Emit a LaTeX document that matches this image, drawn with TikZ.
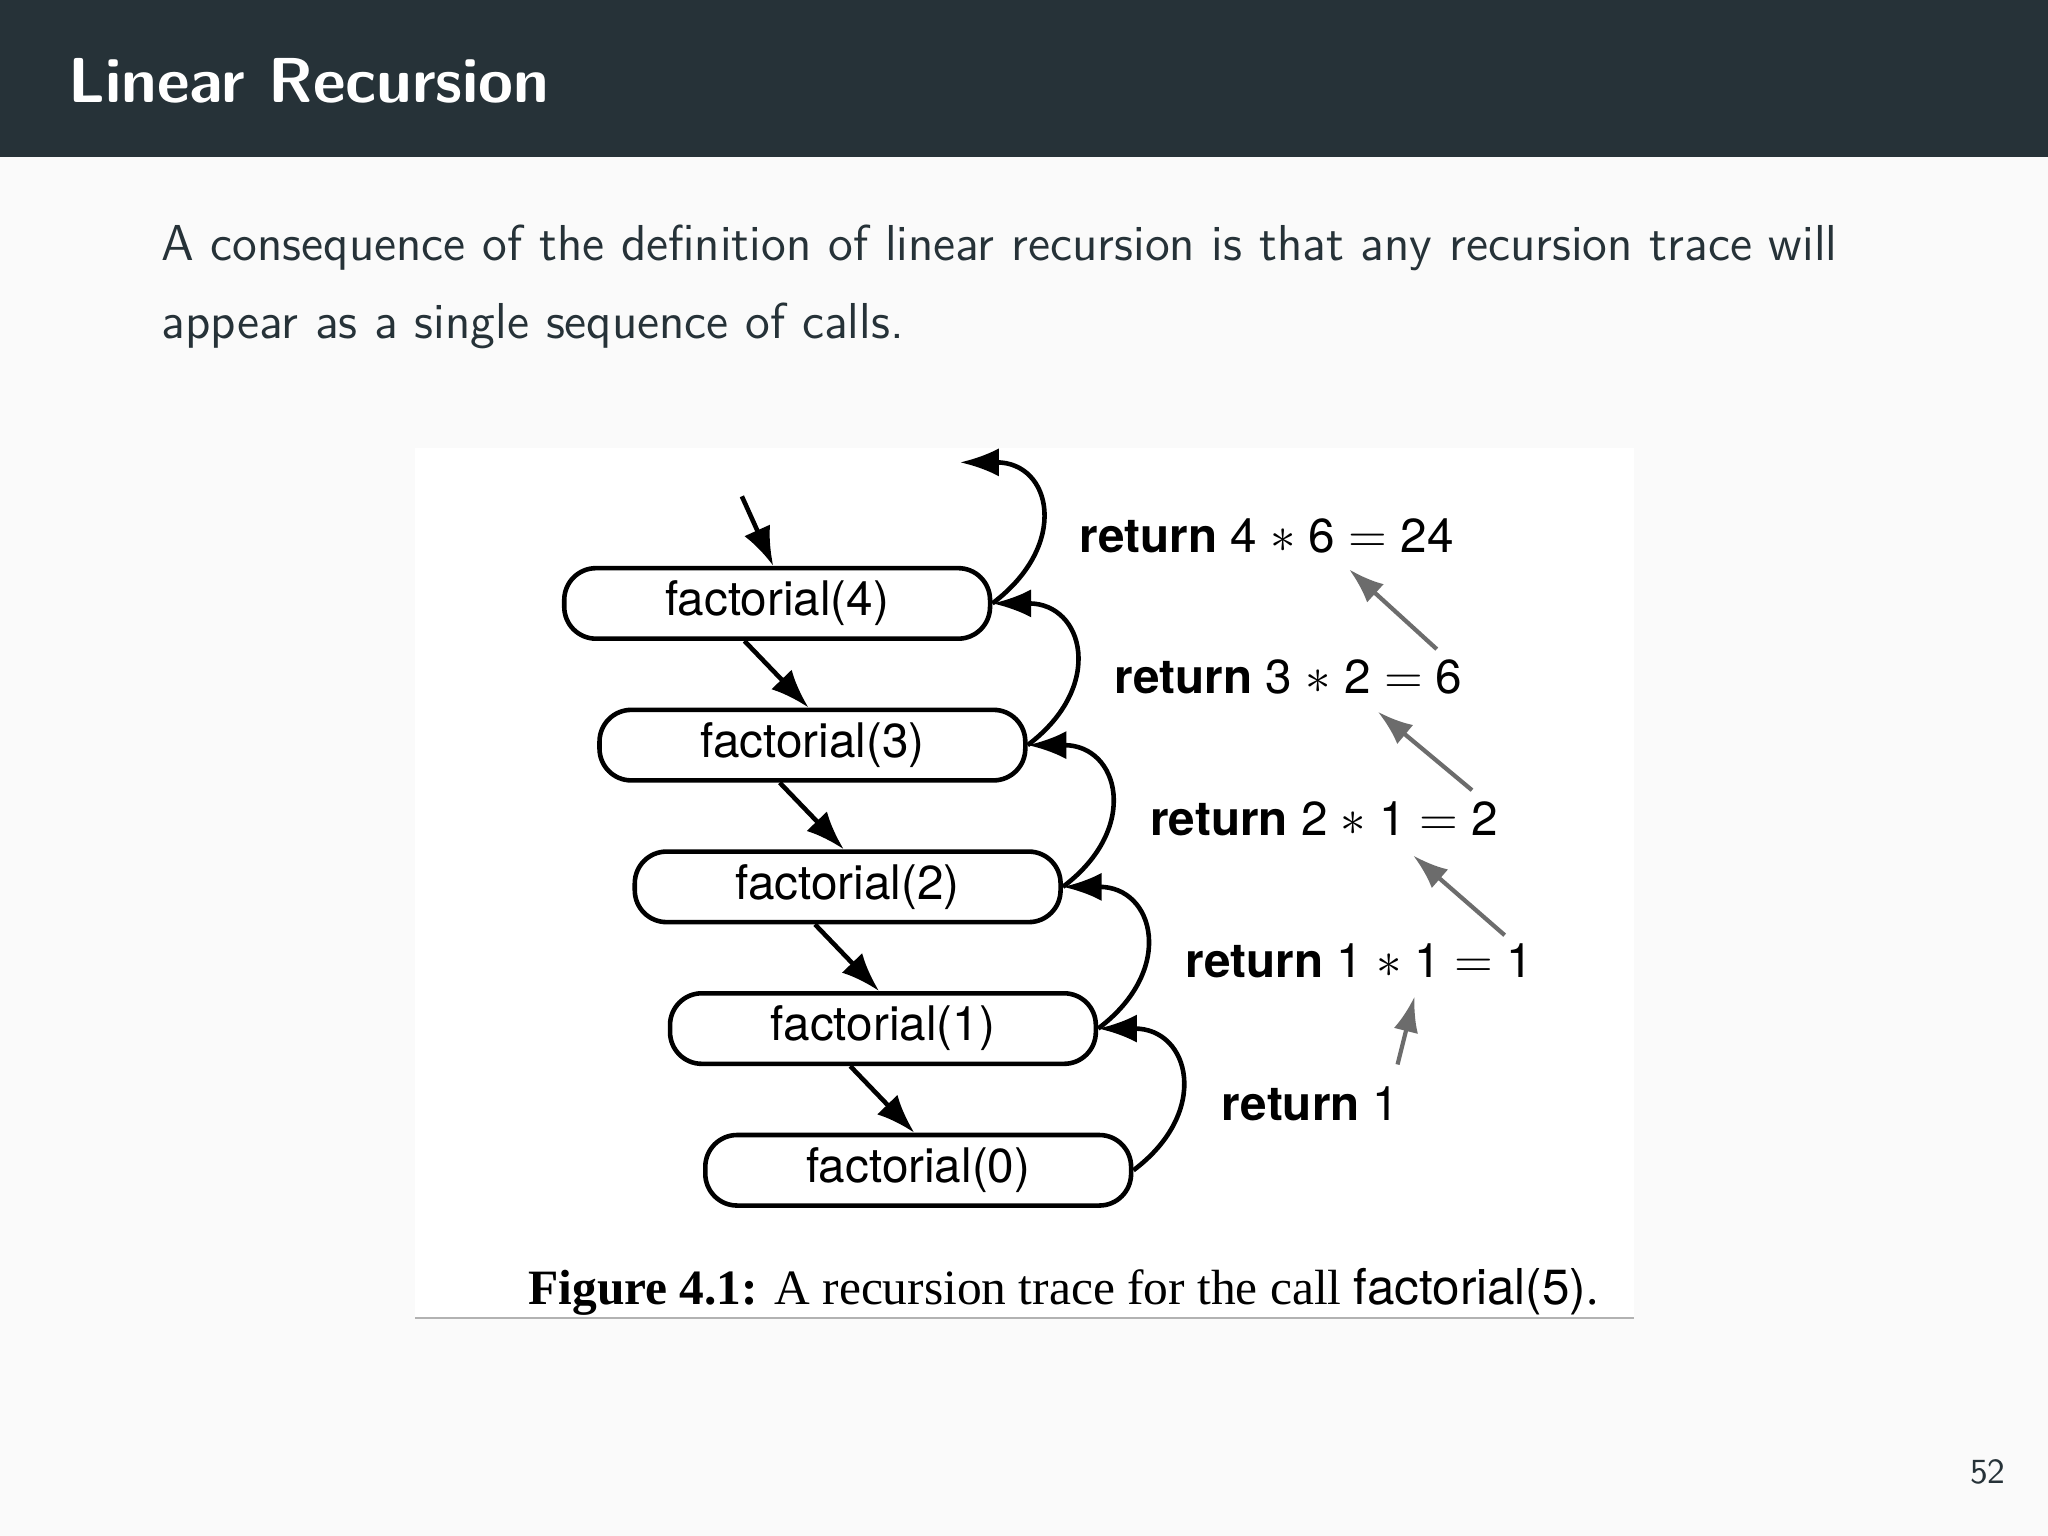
\documentclass[tikz,border=0pt]{standalone}
\usepackage{fontspec}
\newfontfamily\heros{TeX Gyre Heros}
\newfontfamily\capfont{Liberation Serif}
\usetikzlibrary{arrows.meta}
\definecolor{hdr}{HTML}{263238}
\definecolor{pagebg}{HTML}{FAFAFA}
\definecolor{txt}{HTML}{263238}
\tikzset{
 fbox/.style={draw,line width=1.3pt,rounded corners=9pt,minimum width=326*0.013cm,minimum height=54*0.013cm,inner sep=0pt,font=\heros\fontsize{13.5}{15}\selectfont},
 call/.style={-{Latex[length=11pt,width=8pt]},line width=1.3pt},
 ret/.style={-{Latex[length=11pt,width=8pt]},line width=1.3pt},
 gr/.style={-{Latex[length=10pt,width=7pt]},line width=1.2pt,gray!85!black},
 lbl/.style={anchor=west,inner sep=0pt,font=\heros\fontsize{13.5}{15}\selectfont}
}
\begin{document}
\begin{tikzpicture}[x=0.013cm,y=-0.013cm]
\fill[pagebg] (0,0) rectangle (1568,1176);
\useasboundingbox (0,0) rectangle (1568,1176);
\fill[hdr] (0,0) rectangle (1568,120);
\node[anchor=west,text=white,font=\sffamily\bfseries\fontsize{18}{20}\selectfont] (title) at (43,62) {Linear Recursion};
\node[anchor=north west,text=txt,align=left,text width=1300*0.013cm,inner sep=0pt,font=\sffamily\fontsize{14.3}{22}\selectfont] (body) at (123,172) {A consequence of the definition of linear recursion is that any recursion trace will appear as a single sequence of calls.};
\fill[white] (318,343) rectangle (1251,1008);
\draw[gray!60,line width=0.6pt] (318,1009) -- (1251,1009);
\foreach \i/\n in {0/4,1/3,2/2,3/1,4/0}{
 \node[fbox] (b\n) at (595+27*\i,462+108.5*\i) {factorial(\n)};
}
\coordinate (in) at (568,380);
\coordinate (out) at (735,354);
\draw[call] (in) -- ([xshift=-3*0.013cm]b4.north);
\draw[call] ([xshift=-25*0.013cm]b4.south) -- ([xshift=-3*0.013cm]b3.north);
\draw[call] ([xshift=-25*0.013cm]b3.south) -- ([xshift=-3*0.013cm]b2.north);
\draw[call] ([xshift=-25*0.013cm]b2.south) -- ([xshift=-3*0.013cm]b1.north);
\draw[call] ([xshift=-25*0.013cm]b1.south) -- ([xshift=-3*0.013cm]b0.north);
\draw[ret] (b4.east) .. controls +(60,-45) and +(70,0) .. (out);
\foreach \a/\b in {3/4,2/3,1/2,0/1}{
 \draw[ret] (b\a.east) .. controls +(60,-45) and +(70,0) .. (b\b.east);
}
\node[lbl] (l4) at (826,410) {\textbf{return} 4 $*$ 6 $=$ 24};
\node[lbl] (l3) at (853,518) {\textbf{return} 3 $*$ 2 $=$ 6};
\node[lbl] (l2) at (880,627) {\textbf{return} 2 $*$ 1 $=$ 2};
\node[lbl] (l1) at (907,736) {\textbf{return} 1 $*$ 1 $=$ 1};
\node[lbl] (l0) at (935,845) {\textbf{return} 1};
\coordinate (g1s) at (1100,497); \coordinate (g1e) at (1033,436);
\coordinate (g2s) at (1127,605); \coordinate (g2e) at (1055,545);
\coordinate (g3s) at (1152,716); \coordinate (g3e) at (1082,655);
\coordinate (g4s) at (1070,815); \coordinate (g4e) at (1083,763);
\foreach \k in {1,2,3,4}{\draw[gr] (g\k s) -- (g\k e);}
\node[anchor=west,inner sep=0pt,font=\capfont\fontsize{14}{16}\selectfont] (cap) at (404,989) {\textbf{Figure 4.1:} A recursion trace for the call {\heros factorial(5)}.};
\node[text=txt,font=\sffamily\fontsize{10}{12}\selectfont] (pg) at (1522,1127) {52};
\end{tikzpicture}
\end{document}
